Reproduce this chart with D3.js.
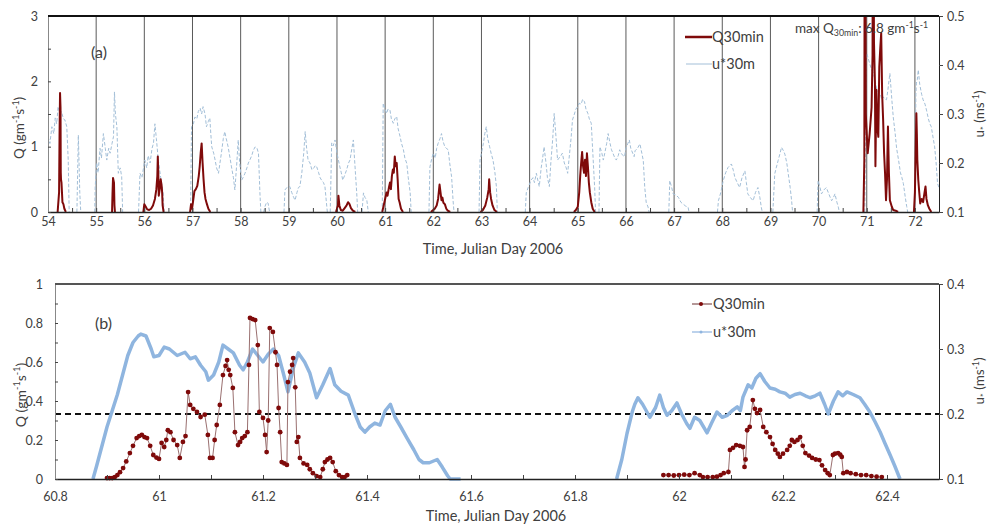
<!DOCTYPE html>
<html>
<head>
<meta charset="utf-8">
<script src="https://cdn.jsdelivr.net/npm/d3@7"></script>
<style>
body { margin: 0; background: #fff; }
text { font-family: Lato, "Open Sans", sans-serif; fill: #404040; }
</style>
</head>
<body>
<svg id="chart"></svg>
<script>
// ---- data, panel (a): [julian day, value], null = gap ----
const topDays = d3.range(54, 73, 1);
const topQTicks = [0, 1, 2, 3];
const topUTicks = [0.1, 0.2, 0.3, 0.4, 0.5];

const topU = [
  [54.0,0.254],[54.04,0.24],[54.08,0.274],[54.12,0.26],[54.15,0.292],[54.18,0.28],[54.21,0.315],[54.25,0.30],[54.28,0.305],[54.32,0.29],[54.35,0.288],[54.39,0.274],[54.42,0.206],[54.44,0.1],null,
  [54.6,0.1],[54.63,0.257],[54.66,0.139],[54.68,0.1],null,
  [54.97,0.1],[54.98,0.152],[55.01,0.2],[55.04,0.18],[55.08,0.23],[55.11,0.21],[55.15,0.26],[55.19,0.23],[55.22,0.206],[55.26,0.23],[55.29,0.22],[55.33,0.24],[55.36,0.254],[55.38,0.345],[55.4,0.3],[55.43,0.274],[55.46,0.179],[55.5,0.19],[55.53,0.172],[55.55,0.1],null,
  [55.88,0.1],[55.91,0.179],[55.95,0.17],[56.01,0.206],[56.05,0.19],[56.08,0.215],[56.12,0.2],[56.16,0.23],[56.19,0.24],[56.22,0.28],[56.25,0.25],[56.29,0.206],[56.34,0.17],[56.39,0.139],[56.41,0.1],null,
  [56.96,0.1],[56.98,0.274],[57.02,0.28],[57.05,0.294],[57.09,0.29],[57.12,0.305],[57.16,0.312],[57.19,0.30],[57.22,0.315],[57.26,0.3],[57.29,0.274],[57.33,0.285],[57.36,0.292],[57.38,0.26],[57.4,0.233],[57.44,0.22],[57.47,0.206],[57.5,0.19],[57.54,0.179],[57.57,0.2],[57.6,0.22],[57.64,0.25],[57.67,0.264],[57.7,0.25],[57.74,0.233],[57.78,0.21],[57.81,0.192],[57.85,0.17],[57.88,0.145],[57.92,0.2],[57.95,0.247],[57.98,0.2],
  [58.02,0.165],[58.05,0.17],[58.09,0.179],[58.13,0.19],[58.16,0.2],[58.19,0.206],[58.23,0.215],[58.26,0.225],[58.3,0.233],[58.34,0.23],[58.37,0.22],[58.4,0.139],[58.42,0.1],null,
  [58.48,0.1],[58.5,0.11],[58.54,0.12],[58.57,0.118],[58.6,0.1],null,
  [58.9,0.1],[58.92,0.145],[58.96,0.15],[59.02,0.152],[59.06,0.14],[59.1,0.13],[59.13,0.124],[59.17,0.14],[59.2,0.15],[59.23,0.152],[59.27,0.18],[59.31,0.22],[59.34,0.264],[59.37,0.23],[59.4,0.206],[59.44,0.2],[59.48,0.186],[59.52,0.19],[59.55,0.195],[59.58,0.192],[59.62,0.18],[59.65,0.17],[59.68,0.165],[59.72,0.16],[59.75,0.152],[59.78,0.12],[59.8,0.1],null,
  [59.86,0.1],[59.89,0.241],[59.92,0.235],[59.96,0.247],[60.0,0.22],[60.03,0.206],[60.06,0.192],[60.09,0.18],[60.12,0.165],[60.16,0.175],[60.2,0.186],[60.24,0.2],[60.27,0.206],[60.31,0.23],[60.34,0.247],[60.37,0.2],[60.41,0.139],[60.43,0.1],null,
  [60.52,0.1],[60.55,0.139],[60.58,0.13],[60.62,0.124],[60.65,0.1],null,
  [60.94,0.1],[60.96,0.322],[61.0,0.31],[61.03,0.301],[61.06,0.31],[61.1,0.308],[61.13,0.29],[61.17,0.281],[61.2,0.29],[61.24,0.295],[61.27,0.27],[61.31,0.254],[61.34,0.24],[61.38,0.227],[61.41,0.21],[61.45,0.199],[61.48,0.17],[61.52,0.139],[61.54,0.1],null,
  [61.91,0.1],[61.93,0.192],[61.97,0.21],[62.0,0.22],[62.04,0.21],[62.07,0.23],[62.1,0.24],[62.14,0.25],[62.17,0.26],[62.2,0.245],[62.24,0.233],[62.27,0.23],[62.31,0.227],[62.34,0.2],[62.38,0.172],[62.41,0.124],[62.43,0.1],null,
  [62.95,0.1],[62.97,0.206],[63.0,0.22],[63.04,0.24],[63.07,0.26],[63.1,0.274],[63.13,0.25],[63.17,0.233],[63.2,0.22],[63.24,0.206],[63.28,0.18],[63.31,0.152],[63.33,0.1],null,
  [63.91,0.1],[63.93,0.139],[63.97,0.15],[64.03,0.165],[64.07,0.17],[64.1,0.16],[64.14,0.179],[64.17,0.165],[64.2,0.152],[64.24,0.19],[64.27,0.21],[64.3,0.233],[64.34,0.2],[64.37,0.17],[64.41,0.152],[64.44,0.2],[64.48,0.25],[64.51,0.301],[64.55,0.25],[64.58,0.206],[64.61,0.21],[64.65,0.215],[64.68,0.22],[64.72,0.2],[64.76,0.19],[64.79,0.179],[64.82,0.21],[64.86,0.25],[64.89,0.288],[64.93,0.3],[64.96,0.31],
  [65.0,0.315],[65.03,0.322],[65.07,0.32],[65.1,0.33],[65.14,0.325],[65.17,0.31],[65.21,0.301],[65.24,0.29],[65.28,0.281],[65.32,0.206],[65.35,0.15],[65.37,0.1],null,
  [65.44,0.1],[65.46,0.233],[65.5,0.22],[65.53,0.206],[65.56,0.22],[65.6,0.24],[65.63,0.26],[65.67,0.24],[65.7,0.227],[65.73,0.22],[65.77,0.21],[65.8,0.206],[65.84,0.215],[65.87,0.227],[65.9,0.22],[65.94,0.215],[65.97,0.213],[66.0,0.23],[66.04,0.24],[66.07,0.247],[66.1,0.23],[66.14,0.22],[66.17,0.213],[66.19,0.225],[66.24,0.23],[66.29,0.239],[66.33,0.22],[66.36,0.205],[66.39,0.151],[66.42,0.12],[66.46,0.11],[66.48,0.1],null,
  [66.89,0.1],[66.91,0.164],[66.95,0.15],[66.98,0.137],[67.03,0.135],[67.09,0.13],[67.14,0.12],[67.19,0.116],[67.24,0.112],[67.29,0.11],[67.31,0.1],null,
  [67.9,0.1],[67.92,0.123],[67.97,0.14],[68.02,0.164],[68.07,0.18],[68.12,0.191],[68.16,0.195],[68.19,0.198],[68.23,0.185],[68.26,0.171],[68.31,0.16],[68.36,0.15],[68.41,0.17],[68.47,0.184],[68.5,0.16],[68.53,0.137],[68.58,0.13],[68.64,0.123],[68.69,0.14],[68.74,0.15],[68.78,0.13],[68.81,0.11],[68.83,0.1],null,
  [69.05,0.1],[69.09,0.178],[69.12,0.19],[69.16,0.205],[69.2,0.22],[69.23,0.232],[69.27,0.225],[69.3,0.218],[69.34,0.2],[69.37,0.178],[69.41,0.15],[69.44,0.123],[69.46,0.1],null,
  [69.97,0.1],[69.99,0.164],[70.03,0.15],[70.06,0.137],[70.11,0.145],[70.16,0.15],[70.22,0.135],[70.27,0.123],[70.31,0.13],[70.34,0.137],[70.38,0.12],[70.41,0.11],[70.43,0.1],null,
  [70.96,0.1],[70.98,0.41],[71.0,0.424],[71.04,0.41],[71.07,0.4],[71.1,0.39],[71.14,0.383],[71.17,0.37],[71.21,0.35],[71.24,0.345],[71.28,0.342],[71.31,0.33],[71.34,0.335],[71.38,0.33],[71.41,0.329],[71.44,0.35],[71.48,0.383],[71.52,0.33],[71.55,0.294],[71.59,0.26],[71.62,0.23],[71.66,0.206],[71.7,0.18],[71.73,0.17],[71.76,0.158],[71.8,0.13],[71.83,0.111],[71.85,0.1],null,
  [72.0,0.1],[72.02,0.34],[72.03,0.363],[72.05,0.37],[72.07,0.39],[72.1,0.36],[72.14,0.34],[72.17,0.329],[72.21,0.32],[72.24,0.308],[72.28,0.29],[72.31,0.28],[72.34,0.274],[72.38,0.25],[72.41,0.233],[72.44,0.2],[72.47,0.158],[72.5,0.15]
];

const topQ = [
  [54.2,0],[54.23,0.3],[54.24,1.2],[54.25,1.82],[54.26,1.6],[54.265,0.6],[54.27,0.5],[54.28,0.45],[54.29,0.3],[54.3,0.15],[54.32,0.12],[54.34,0.05],[54.37,0],null,
  [55.33,0],[55.34,0.3],[55.35,0.52],[55.37,0.45],[55.38,0.1],[55.39,0],null,
  [55.98,0],[56.0,0.12],[56.03,0.08],[56.06,0.04],[56.1,0.03],[56.14,0.05],[56.18,0.1],[56.22,0.2],[56.25,0.35],[56.27,0.55],[56.28,0.85],[56.29,0.6],[56.3,0.25],[56.32,0.35],[56.34,0.5],[56.36,0.4],[56.37,0.3],[56.38,0.1],[56.4,0],null,
  [56.95,0],[56.97,0.12],[56.99,0.05],[57.01,0.15],[57.04,0.32],[57.07,0.35],[57.1,0.4],[57.13,0.55],[57.15,0.7],[57.17,0.9],[57.19,1.05],[57.21,0.75],[57.23,0.5],[57.25,0.3],[57.27,0.2],[57.3,0.12],[57.33,0.05],[57.37,0],null,
  [59.98,0],[60.02,0.1],[60.03,0.25],[60.05,0.1],[60.08,0.03],[60.12,0.02],[60.16,0.06],[60.2,0.1],[60.23,0.15],[60.26,0.12],[60.29,0.06],[60.33,0.02],[60.38,0],null,
  [60.94,0],[60.97,0.1],[61.0,0.2],[61.03,0.3],[61.05,0.25],[61.08,0.38],[61.1,0.45],[61.12,0.35],[61.14,0.55],[61.16,0.65],[61.18,0.6],[61.2,0.85],[61.22,0.7],[61.24,0.75],[61.26,0.5],[61.28,0.2],[61.3,0.15],[61.33,0.05],[61.37,0],null,
  [61.95,0],[61.98,0.02],[62.03,0.05],[62.07,0.1],[62.1,0.2],[62.13,0.42],[62.15,0.3],[62.17,0.18],[62.19,0.22],[62.21,0.14],[62.24,0.12],[62.27,0.05],[62.3,0.02],[62.35,0],null,
  [62.98,0],[63.03,0.03],[63.08,0.1],[63.12,0.22],[63.15,0.35],[63.16,0.5],[63.18,0.3],[63.2,0.2],[63.23,0.1],[63.27,0.03],[63.32,0],null,
  [64.92,0],[64.96,0.03],[65.0,0.08],[65.03,0.3],[65.05,0.55],[65.07,0.75],[65.09,0.92],[65.11,0.7],[65.13,0.6],[65.15,0.8],[65.17,0.55],[65.19,0.9],[65.21,0.7],[65.23,0.45],[65.25,0.3],[65.28,0.15],[65.31,0.05],[65.35,0],null,
  [70.93,0],[70.95,0.8],[70.96,6.8],[70.98,1.5],[71.02,0.9],[71.06,1.2],[71.1,1.6],[71.12,2.4],[71.13,6.0],[71.15,2.6],[71.17,1.97],[71.18,0.7],[71.2,1.87],[71.22,1.3],[71.24,1.15],[71.26,2.22],[71.28,2.5],[71.3,2.74],[71.32,1.8],[71.34,1.41],[71.36,0.9],[71.38,0.59],[71.4,0.18],[71.42,0.5],[71.44,1.31],[71.46,0.6],[71.48,0.18],[71.52,0.08],[71.55,0.03],[71.6,0.02],[71.65,0],null,
  [71.98,0],[72.0,0.3],[72.02,1.1],[72.03,1.51],[72.04,1.2],[72.05,0.8],[72.07,0.49],[72.09,0.3],[72.11,0.13],[72.14,0.2],[72.17,0.15],[72.2,0.3],[72.22,0.39],[72.24,0.2],[72.27,0.1],[72.3,0.05],[72.34,0]
];

// ---- data, panel (b) ----
const botXTicks = [60.8, 61, 61.2, 61.4, 61.6, 61.8, 62, 62.2, 62.4];
const botQTicks = [0, 0.2, 0.4, 0.6, 0.8, 1];
const botUTicks = [0.1, 0.2, 0.3, 0.4];
const uThreshold = 0.2;

const botU = [
  [60.873,0.1],[60.88,0.12],[60.89,0.15],[60.9,0.18],[60.91,0.205],[60.92,0.23],[60.93,0.26],[60.94,0.29],[60.945,0.3],[60.95,0.31],[60.96,0.32],[60.965,0.323],[60.975,0.32],[60.985,0.3],[60.99,0.288],[61.0,0.29],[61.01,0.303],[61.02,0.3],[61.035,0.29],[61.05,0.295],[61.06,0.285],[61.07,0.288],[61.08,0.275],[61.09,0.265],[61.095,0.252],[61.105,0.26],[61.115,0.28],[61.123,0.306],[61.133,0.3],[61.143,0.294],[61.155,0.275],[61.162,0.268],[61.17,0.28],[61.18,0.30],[61.19,0.29],[61.2,0.28],[61.21,0.292],[61.22,0.30],[61.23,0.29],[61.24,0.26],[61.248,0.234],[61.258,0.27],[61.268,0.294],[61.28,0.28],[61.29,0.263],[61.303,0.225],[61.315,0.245],[61.329,0.27],[61.338,0.245],[61.35,0.235],[61.364,0.229],[61.377,0.2],[61.387,0.18],[61.396,0.172],[61.405,0.18],[61.415,0.186],[61.425,0.183],[61.435,0.205],[61.445,0.215],[61.454,0.195],[61.465,0.18],[61.477,0.163],[61.49,0.145],[61.5,0.13],[61.508,0.125],[61.52,0.125],[61.535,0.13],[61.545,0.118],[61.555,0.105],[61.56,0.1],[61.58,0.1],null,
  [61.88,0.1],[61.89,0.13],[61.9,0.17],[61.91,0.203],[61.915,0.215],[61.921,0.225],[61.93,0.215],[61.944,0.195],[61.955,0.21],[61.963,0.229],[61.97,0.21],[61.977,0.198],[61.986,0.205],[61.996,0.217],[62.005,0.2],[62.015,0.185],[62.021,0.178],[62.03,0.195],[62.04,0.19],[62.054,0.171],[62.062,0.185],[62.073,0.203],[62.083,0.195],[62.093,0.198],[62.102,0.205],[62.112,0.211],[62.118,0.205],[62.123,0.226],[62.133,0.245],[62.14,0.24],[62.148,0.255],[62.156,0.262],[62.165,0.25],[62.175,0.24],[62.185,0.238],[62.194,0.234],[62.204,0.232],[62.213,0.226],[62.223,0.23],[62.233,0.232],[62.243,0.228],[62.252,0.225],[62.262,0.228],[62.271,0.232],[62.28,0.215],[62.287,0.20],[62.297,0.22],[62.306,0.234],[62.315,0.228],[62.323,0.234],[62.335,0.23],[62.348,0.225],[62.357,0.215],[62.367,0.203],[62.377,0.188],[62.387,0.172],[62.396,0.155],[62.406,0.137],[62.415,0.12],[62.425,0.1]
];

const botQ = [
  [60.9,0.005],[60.905,0.005],[60.91,0.005],[60.915,0.01],[60.92,0.02],[60.925,0.035],[60.931,0.056],[60.937,0.09],[60.944,0.133],[60.95,0.17],[60.957,0.21],[60.962,0.22],[60.967,0.226],[60.972,0.215],[60.977,0.21],[60.983,0.17],[60.989,0.123],[60.995,0.11],[61.0,0.103],[61.005,0.185],[61.01,0.164],[61.014,0.2],[61.017,0.25],[61.022,0.24],[61.028,0.2],[61.035,0.174],[61.04,0.108],[61.046,0.19],[61.051,0.22],[61.056,0.446],[61.06,0.38],[61.066,0.36],[61.073,0.344],[61.08,0.318],[61.088,0.33],[61.094,0.226],[61.098,0.108],[61.103,0.108],[61.107,0.2],[61.111,0.277],[61.117,0.38],[61.123,0.533],[61.128,0.58],[61.131,0.61],[61.134,0.56],[61.137,0.533],[61.142,0.467],[61.146,0.24],[61.152,0.174],[61.156,0.19],[61.16,0.21],[61.165,0.22],[61.17,0.24],[61.173,0.585],[61.175,0.826],[61.18,0.82],[61.185,0.815],[61.19,0.687],[61.193,0.344],[61.2,0.313],[61.204,0.226],[61.207,0.138],[61.21,0.3],[61.213,0.774],[61.219,0.754],[61.224,0.65],[61.227,0.585],[61.23,0.364],[61.233,0.24],[61.236,0.087],[61.241,0.08],[61.246,0.072],[61.248,0.497],[61.252,0.55],[61.256,0.585],[61.258,0.62],[61.262,0.47],[61.265,0.19],[61.268,0.215],[61.271,0.108],[61.278,0.08],[61.285,0.072],[61.29,0.05],[61.296,0.03],[61.303,0.015],[61.31,0.01],[61.315,0.05],[61.319,0.087],[61.324,0.1],[61.329,0.108],[61.334,0.087],[61.34,0.04],[61.346,0.02],[61.352,0.01],[61.357,0.01],[61.362,0.02],null,
  [61.97,0.02],[61.98,0.02],[61.99,0.018],[62.0,0.02],[62.01,0.022],[62.02,0.02],[62.03,0.03],[62.04,0.02],[62.046,0.01],[62.055,0.01],[62.065,0.01],[62.073,0.012],[62.08,0.02],[62.086,0.03],[62.095,0.036],[62.098,0.149],[62.104,0.16],[62.11,0.174],[62.117,0.17],[62.123,0.164],[62.126,0.062],[62.128,0.1],[62.131,0.25],[62.136,0.267],[62.142,0.405],[62.146,0.36],[62.15,0.338],[62.156,0.354],[62.162,0.267],[62.168,0.24],[62.175,0.215],[62.18,0.18],[62.185,0.149],[62.19,0.13],[62.194,0.113],[62.2,0.13],[62.208,0.149],[62.213,0.17],[62.217,0.2],[62.222,0.19],[62.228,0.2],[62.233,0.215],[62.238,0.17],[62.243,0.133],[62.25,0.12],[62.256,0.108],[62.263,0.1],[62.27,0.097],[62.275,0.07],[62.281,0.046],[62.286,0.03],[62.29,0.02],[62.296,0.123],[62.3,0.13],[62.306,0.133],[62.31,0.125],[62.313,0.113],[62.316,0.03],[62.323,0.036],[62.33,0.03],[62.34,0.025],[62.35,0.02],[62.36,0.02],[62.37,0.015],[62.38,0.012],[62.39,0.01]
];

let w = 991;
let h = 526;

const RED = "#7f0a0a";
const BLUE_THIN = "#a3bfd8";
const BLUE = "#8fb5df";

let svg = d3.select("#chart").attr("width", w).attr("height", h);

// scales
let topX = d3.scaleLinear().domain([54, 72.5]).range([48, 939]);
let topYQ = d3.scaleLinear().domain([0, 3]).range([212, 16]);
let topYU = d3.scaleLinear().domain([0.1, 0.5]).range([212, 16]);

let botX = d3.scaleLinear().domain([60.8, 62.5]).range([55, 939]);
let botYQ = d3.scaleLinear().domain([0, 1]).range([479, 284]);
let botYU = d3.scaleLinear().domain([0.1, 0.4]).range([479, 284]);

// label with super/subscripts: parts = [[text, "n"|"sup"|"sub"], ...]
let richText = (g, parts, size) => {
    let t = g.append("text").attr("font-size", size);
    let prev = 0;
    parts.forEach(p => {
        let shift = p[1] === "sup" ? -size * 0.4 : p[1] === "sub" ? size * 0.25 : 0;
        t.append("tspan")
            .attr("dy", shift - prev)
            .attr("font-size", p[1] === "n" ? size : size * 0.65)
            .text(p[0]);
        prev = shift;
    });
    return t;
}

let styleAxis = (g, color) => {
    g.selectAll(".tick line").attr("stroke", color || "#444");
    g.selectAll(".tick text").attr("font-size", 12.5).attr("fill", "#404040");
}

// ================= panel (a) =================
svg.append("clipPath").attr("id", "clipA")
    .append("rect").attr("x", 48).attr("y", 16).attr("width", 891).attr("height", 196);

// day lines
svg.append("g").selectAll("line")
    .data(topDays.slice(1))
    .enter().append("line")
    .attr("x1", d => topX(d)).attr("x2", d => topX(d))
    .attr("y1", 16).attr("y2", 212)
    .attr("stroke", "#5a5a5a").attr("stroke-width", 1);

let topLineU = d3.line().defined(d => d !== null)
    .x(d => topX(d[0])).y(d => topYU(d[1]));
svg.append("path").datum(topU)
    .attr("clip-path", "url(#clipA)")
    .attr("d", topLineU)
    .attr("fill", "none").attr("stroke", BLUE_THIN)
    .attr("stroke-width", 1).attr("stroke-dasharray", "3.5,2");

let topLineQ = d3.line().defined(d => d !== null)
    .x(d => topX(d[0])).y(d => topYQ(d[1]));
svg.append("path").datum(topQ)
    .attr("clip-path", "url(#clipA)")
    .attr("d", topLineQ)
    .attr("fill", "none").attr("stroke", RED)
    .attr("stroke-width", 2).attr("stroke-linejoin", "round");

// axes (a)
let axA = svg.append("g").attr("transform", "translate(0,212)")
    .call(d3.axisBottom(topX).tickValues(d3.range(54, 72.6, 0.5))
        .tickFormat(d => Number.isInteger(d) ? d : "")
        .tickSizeInner(-4).tickSizeOuter(0).tickPadding(5));
axA.select(".domain").attr("stroke", "#222").attr("stroke-width", 1.3);
styleAxis(axA);

let ayA = svg.append("g").attr("transform", "translate(48,0)")
    .call(d3.axisLeft(topYQ).tickValues(d3.range(0, 3.01, 0.5))
        .tickFormat(d => topQTicks.includes(d) ? d : "")
        .tickSizeInner(-3).tickSizeOuter(0).tickPadding(10));
ayA.select(".domain").attr("stroke", "#888");
styleAxis(ayA);

let ayA2 = svg.append("g").attr("transform", "translate(939,0)")
    .call(d3.axisRight(topYU).tickValues(topUTicks).tickFormat(d3.format(".1f"))
        .tickSizeInner(4).tickSizeOuter(0).tickPadding(4));
ayA2.select(".domain").attr("stroke", "#222");
styleAxis(ayA2);

svg.append("line").attr("x1", 48).attr("x2", 939).attr("y1", 16).attr("y2", 16)
    .attr("stroke", "#111").attr("stroke-width", 2);

// titles (a)
svg.append("text").attr("x", 493).attr("y", 254).attr("text-anchor", "middle")
    .attr("font-size", 14.5).text("Time, Julian Day 2006");

richText(svg.append("g").attr("transform", "translate(24,128) rotate(-90)"),
    [["Q (gm", "n"], ["-1", "sup"], ["s", "n"], ["-1", "sup"], [")", "n"]], 13.5)
    .attr("text-anchor", "middle");

richText(svg.append("g").attr("transform", "translate(984,114) rotate(-90)"),
    [["u", "n"], ["*", "sub"], [" (ms", "n"], ["-1", "sup"], [")", "n"]], 13.5)
    .attr("text-anchor", "middle");

svg.append("text").attr("x", 91).attr("y", 58).attr("font-size", 16).attr("fill", "#222").text("(a)");

// legend (a)
svg.append("line").attr("x1", 685).attr("x2", 712).attr("y1", 37).attr("y2", 37)
    .attr("stroke", RED).attr("stroke-width", 2.5);
svg.append("text").attr("x", 712).attr("y", 42).attr("font-size", 14.5).text("Q30min");
svg.append("line").attr("x1", 686).attr("x2", 712).attr("y1", 64).attr("y2", 64)
    .attr("stroke", BLUE_THIN).attr("stroke-width", 1);
svg.append("text").attr("x", 712).attr("y", 69).attr("font-size", 14.5).text("u*30m");

richText(svg.append("g").attr("transform", "translate(795,33)"),
    [["max Q", "n"], ["30min", "sub"], [": 6.8 gm", "n"], ["-1", "sup"], ["s", "n"], ["-1", "sup"]], 13.5)
    .attr("fill", "#222");

// ================= panel (b) =================
svg.append("line")
    .attr("x1", botX.range()[0]).attr("x2", botX.range()[1])
    .attr("y1", botYU(uThreshold)).attr("y2", botYU(uThreshold))
    .attr("stroke", "#111").attr("stroke-width", 1.8).attr("stroke-dasharray", "6,4");

let botLineU = d3.line().defined(d => d !== null)
    .x(d => botX(d[0])).y(d => botYU(d[1]));
svg.append("path").datum(botU)
    .attr("d", botLineU)
    .attr("fill", "none").attr("stroke", BLUE)
    .attr("stroke-width", 3.5).attr("stroke-linejoin", "round");

let botLineQ = d3.line().defined(d => d !== null)
    .x(d => botX(d[0])).y(d => botYQ(d[1]));
svg.append("path").datum(botQ)
    .attr("d", botLineQ)
    .attr("fill", "none").attr("stroke", "#9a7070").attr("stroke-width", 1);
svg.append("g").selectAll("circle")
    .data(botQ.filter(d => d !== null))
    .enter().append("circle")
    .attr("cx", d => botX(d[0]))
    .attr("cy", d => botYQ(d[1]))
    .attr("r", 2.4)
    .attr("fill", RED);

// axes (b)
let axB = svg.append("g").attr("transform", "translate(0,479)")
    .call(d3.axisBottom(botX).tickValues(d3.range(60.8, 62.55, 0.1).map(d => +d.toFixed(1)))
        .tickFormat(d => botXTicks.includes(d) ? d : "")
        .tickSizeInner(-4).tickSizeOuter(0).tickPadding(13));
axB.select(".domain").attr("stroke", "#222").attr("stroke-width", 1.3);
styleAxis(axB);

let ayB = svg.append("g").attr("transform", "translate(55,0)")
    .call(d3.axisLeft(botYQ).tickValues(d3.range(0, 1.01, 0.1).map(d => +d.toFixed(1)))
        .tickFormat(d => botQTicks.includes(d) ? d : "")
        .tickSizeInner(-3).tickSizeOuter(0).tickPadding(12));
ayB.select(".domain").attr("stroke", "#888");
styleAxis(ayB);

let ayB2 = svg.append("g").attr("transform", "translate(939,0)")
    .call(d3.axisRight(botYU).tickValues(botUTicks).tickFormat(d3.format(".1f"))
        .tickSizeInner(4).tickSizeOuter(0).tickPadding(4));
ayB2.select(".domain").attr("stroke", "#222");
styleAxis(ayB2);

svg.append("line").attr("x1", 55).attr("x2", 939).attr("y1", 284).attr("y2", 284)
    .attr("stroke", "#555").attr("stroke-width", 2.2);

// titles (b)
svg.append("text").attr("x", 496).attr("y", 521).attr("text-anchor", "middle")
    .attr("font-size", 14.5).text("Time, Julian Day 2006");

richText(svg.append("g").attr("transform", "translate(26,395) rotate(-90)"),
    [["Q (gm", "n"], ["-1", "sup"], ["s", "n"], ["-1", "sup"], [")", "n"]], 14)
    .attr("text-anchor", "middle");

richText(svg.append("g").attr("transform", "translate(984,381) rotate(-90)"),
    [["u", "n"], ["*", "sub"], [" (ms", "n"], ["-1", "sup"], [")", "n"]], 13.5)
    .attr("text-anchor", "middle");

svg.append("text").attr("x", 95).attr("y", 329).attr("font-size", 16).attr("fill", "#222").text("(b)");

// legend (b)
svg.append("line").attr("x1", 692).attr("x2", 712).attr("y1", 304).attr("y2", 304)
    .attr("stroke", "#6a3030").attr("stroke-width", 1);
svg.append("circle").attr("cx", 701).attr("cy", 304).attr("r", 2).attr("fill", RED);
svg.append("text").attr("x", 713).attr("y", 309).attr("font-size", 14.5).text("Q30min");
svg.append("line").attr("x1", 692).attr("x2", 712).attr("y1", 332).attr("y2", 332)
    .attr("stroke", BLUE).attr("stroke-width", 1.2);
svg.append("circle").attr("cx", 701).attr("cy", 332).attr("r", 1.5).attr("fill", BLUE);
svg.append("text").attr("x", 713).attr("y", 337).attr("font-size", 14.5).text("u*30m");
</script>
</body>
</html>
